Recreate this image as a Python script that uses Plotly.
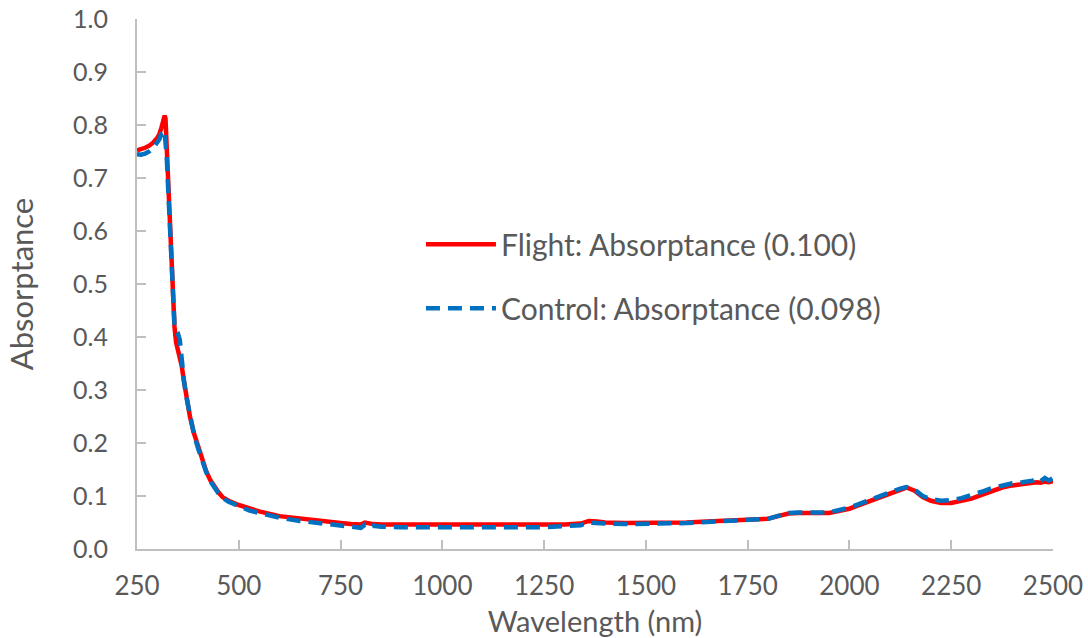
import plotly.graph_objects as go

wavelength = [250, 260, 270, 280, 290, 300, 305, 310, 315, 318, 320, 323, 326, 330, 334, 338, 342, 346, 350, 355,
              360, 365, 370, 380, 390, 400, 410, 420, 430, 440, 450, 460, 475, 500, 525, 550, 600, 650, 700, 750,
              775, 800, 810, 820, 830, 850, 900, 950, 1000, 1050, 1100, 1150, 1200, 1250, 1300, 1340, 1360, 1380,
              1400, 1450, 1500, 1550, 1600, 1650, 1700, 1750, 1800, 1825, 1850, 1875, 1900, 1950, 2000, 2050, 2100,
              2125, 2140, 2160, 2180, 2200, 2225, 2250, 2275, 2300, 2325, 2350, 2375, 2400, 2425, 2450, 2460, 2470,
              2480, 2490, 2500]

flight = [0.752, 0.754, 0.757, 0.761, 0.767, 0.776, 0.783, 0.795, 0.810, 0.818, 0.812, 0.760, 0.700, 0.640, 0.560,
          0.480, 0.420, 0.390, 0.378, 0.368, 0.345, 0.318, 0.292, 0.250, 0.218, 0.192, 0.166, 0.147, 0.130, 0.117,
          0.107, 0.098, 0.091, 0.083, 0.076, 0.071, 0.062, 0.057, 0.052, 0.049, 0.047, 0.046, 0.050, 0.048, 0.047,
          0.046, 0.046, 0.046, 0.045, 0.045, 0.045, 0.045, 0.045, 0.046, 0.046, 0.048, 0.053, 0.052, 0.050, 0.049,
          0.049, 0.049, 0.050, 0.052, 0.054, 0.055, 0.057, 0.062, 0.067, 0.068, 0.068, 0.068, 0.076, 0.090, 0.105,
          0.113, 0.116, 0.110, 0.098, 0.091, 0.087, 0.087, 0.090, 0.095, 0.102, 0.110, 0.116, 0.120, 0.123, 0.125,
          0.126, 0.125, 0.127, 0.126, 0.128]

control = [0.745, 0.744, 0.746, 0.750, 0.757, 0.766, 0.773, 0.785, 0.790, 0.785, 0.770, 0.740, 0.690, 0.630, 0.550,
           0.475, 0.425, 0.412, 0.408, 0.395, 0.350, 0.320, 0.292, 0.249, 0.216, 0.190, 0.164, 0.145, 0.128, 0.115,
           0.105, 0.097, 0.089, 0.081, 0.073, 0.068, 0.059, 0.053, 0.048, 0.044, 0.042, 0.040, 0.046, 0.041, 0.044,
           0.042, 0.041, 0.041, 0.040, 0.040, 0.040, 0.040, 0.041, 0.041, 0.043, 0.045, 0.050, 0.050, 0.048, 0.047,
           0.047, 0.047, 0.049, 0.051, 0.054, 0.055, 0.057, 0.063, 0.068, 0.069, 0.069, 0.069, 0.078, 0.093, 0.106,
           0.114, 0.117, 0.112, 0.100, 0.094, 0.091, 0.092, 0.096, 0.101, 0.108, 0.115, 0.120, 0.124, 0.126, 0.129,
           0.133, 0.128, 0.134, 0.129, 0.134]

flight_label = "Flight: Absorptance (0.100)"
control_label = "Control: Absorptance (0.098)"

x_ticks = [250, 500, 750, 1000, 1250, 1500, 1750, 2000, 2250, 2500]
y_ticks = [0.0, 0.1, 0.2, 0.3, 0.4, 0.5, 0.6, 0.7, 0.8, 0.9, 1.0]

FONT = "Lato"
TXT = "#595959"
AX = "#BFBFBF"

fig = go.Figure()
fig.add_trace(go.Scatter(x=wavelength, y=flight, mode="lines", name=flight_label,
                         line=dict(color="#FF0000", width=4.5), legendgroup="a"))
fig.add_trace(go.Scatter(x=wavelength, y=control, mode="lines", name=control_label,
                         line=dict(color="#0070C0", width=4.5, dash="14px,8px"), legendgroup="b"))

fig.update_layout(
    width=1088, height=638,
    margin=dict(l=137, r=35, t=19, b=89),
    paper_bgcolor="white", plot_bgcolor="white",
    font=dict(family=FONT, color=TXT, size=25),
    legend=dict(x=0.31, y=0.624, xanchor="left", yanchor="top", bgcolor="rgba(0,0,0,0)",
                font=dict(size=30, color=TXT, family=FONT), itemwidth=70,
                traceorder="grouped", tracegroupgap=22),
    xaxis=dict(range=[250, 2500], tickvals=x_ticks, showgrid=False, zeroline=False, automargin=False,
               showline=True, linecolor=AX, linewidth=2, ticks="inside", ticklen=9,
               tickcolor=AX, tickwidth=2, tickfont=dict(size=26, color=TXT), ticklabelstandoff=13,
               ticklabeloverflow="allow",
               title=dict(text="Wavelength (nm)", font=dict(size=29, color=TXT), standoff=11)),
    yaxis=dict(range=[0, 1], tickvals=y_ticks, tickformat=".1f", showgrid=False, zeroline=False,
               automargin=False, ticklabeloverflow="allow",
               showline=True, linecolor=AX, linewidth=2, ticks="inside", ticklen=9,
               tickcolor=AX, tickwidth=2, tickfont=dict(size=25, color=TXT), ticklabelstandoff=22,
               title=dict(text="Absorptance", font=dict(size=31, color=TXT), standoff=30)),
)

fig.write_html("out.html", config={"displayModeBar": False},
               post_script="document.body.style.margin='0';document.body.style.overflow='hidden';")
